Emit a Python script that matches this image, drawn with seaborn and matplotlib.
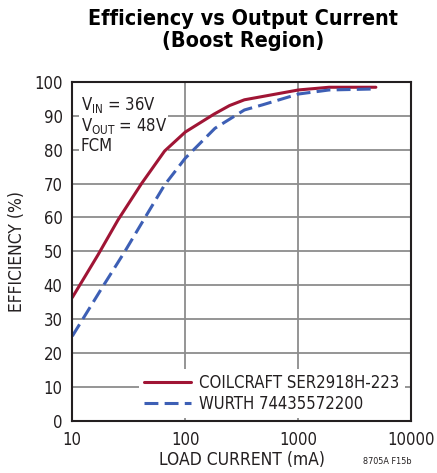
import numpy as np
import pandas as pd
import matplotlib
matplotlib.use('Agg')
import matplotlib.pyplot as plt
import seaborn as sns

# Datos
coil_current = [10, 12.9, 16.9, 25.4, 41, 65.6, 100, 180, 246, 333, 1000, 1870, 4850]
coil_eff = [36.4, 42.5, 49, 59.3, 70, 79.6, 85.2, 90.5, 93, 94.7, 97.6, 98.4, 98.4]

wurth_current = [10, 18.2, 29.2, 43.7, 65.6, 100, 183, 333, 480, 1000, 1870, 4850]
wurth_eff = [25, 39.1, 50, 59.8, 69.6, 77.5, 86.3, 91.7, 93.2, 96.4, 97.6, 97.9]

series_names = ['COILCRAFT SER2918H-223', 'WURTH 74435572200']
x_ticks = [10, 100, 1000, 10000]
x_ticklabels = ['10', '100', '1000', '10000']
y_ticks = list(range(0, 101, 10))

text_color = '#231f20'
red = '#a01535'
blue = '#3d5fb5'

df = pd.concat([
    pd.DataFrame({'current': coil_current, 'eff': coil_eff, 'serie': series_names[0]}),
    pd.DataFrame({'current': wurth_current, 'eff': wurth_eff, 'serie': series_names[1]}),
])

sns.set_style('white')
plt.rcParams['font.family'] = ['DejaVu Sans']
plt.rcParams['font.stretch'] = 'condensed'
plt.rcParams['mathtext.fontset'] = 'custom'
plt.rcParams['mathtext.rm'] = 'DejaVu Sans:stretch=condensed'
plt.rcParams['lines.scale_dashes'] = False

fig = plt.figure(figsize=(4.37, 4.73), dpi=100)
ax = fig.add_axes([0.1654, 0.110, 0.776, 0.717])

sns.lineplot(data=df, x='current', y='eff', hue='serie', style='serie',
             palette={series_names[0]: red, series_names[1]: blue},
             dashes={series_names[0]: '', series_names[1]: (10, 4.5)},
             linewidth=2.2, ax=ax, sort=False, estimator=None)

ax.set_xscale('log')
ax.set_xlim(10, 10000)
ax.set_ylim(0, 100)
ax.set_xticks(x_ticks)
ax.set_xticklabels(x_ticklabels)
ax.minorticks_off()
ax.set_yticks(y_ticks)
ax.grid(True, color='#8c8c8c', linewidth=1.3)
ax.set_axisbelow(True)
ax.tick_params(colors=text_color, labelsize=12, length=0)
ax.tick_params(axis='y', pad=7)
ax.tick_params(axis='x', pad=7)

for spine in ax.spines.values():
    spine.set_color(text_color)
    spine.set_linewidth(1.5)

ax.set_xlabel('LOAD CURRENT (mA)', fontsize=12.5, color=text_color, labelpad=2)
ax.set_ylabel('EFFICIENCY (%)', fontsize=12.5, color=text_color, labelpad=6)

fig.text(0.556, 0.980, 'Efficiency vs Output Current\n(Boost Region)',
         ha='center', va='top', fontsize=15.5, fontweight='bold',
         color='black', linespacing=1.12)

# cuadro de condiciones (las curvas quedan por encima)
ax.text(0.025, 0.96, 'V$_{\\mathrm{IN}}$ = 36V\nV$_{\\mathrm{OUT}}$ = 48V\nFCM',
        transform=ax.transAxes, ha='left', va='top', fontsize=12,
        color=text_color, linespacing=1.05, zorder=1.5,
        bbox=dict(facecolor='white', edgecolor='none', pad=1))

leg = ax.legend(loc='lower right', bbox_to_anchor=(0.99, 0.0), fontsize=12,
                frameon=True, facecolor='white', edgecolor='none', framealpha=1,
                handlelength=2.8, handletextpad=0.5, borderpad=0.3,
                labelspacing=0.15, borderaxespad=0.2)
for t in leg.get_texts():
    t.set_color(text_color)

fig.text(0.83, 0.02, '8705A F15b', fontsize=6.5, color=text_color, ha='left')

fig.savefig('out.png', dpi=100, facecolor='white')
